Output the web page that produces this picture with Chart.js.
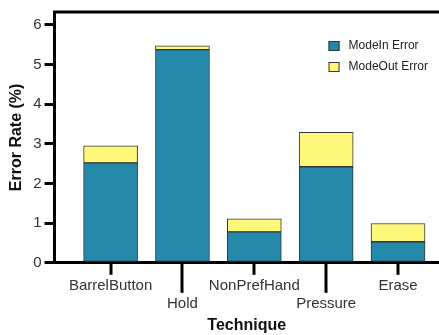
<!DOCTYPE html>
<html>
<head>
<meta charset="utf-8">
<script src="https://cdn.jsdelivr.net/npm/chart.js@4"></script>
<style>
  html, body { margin: 0; padding: 0; background: #fff; }
  #wrap { width: 439px; height: 335px; }
</style>
</head>
<body>
<div id="wrap"><canvas id="chartErrors"></canvas></div>
<script>
const categories = ["BarrelButton", "Hold", "NonPrefHand", "Pressure", "Erase"];
const modeIn = [2.52, 5.37, 0.78, 2.42, 0.53];
const modeOut = [0.43, 0.1, 0.33, 0.87, 0.46];
const yTicks = [0, 1, 2, 3, 4, 5, 6];

const FONT = "'Liberation Sans', Arial, sans-serif";

// extra lines: top frame, x tick marks (long ones for staggered labels), legend
const extras = {
  id: "extras",
  afterDraw(chart) {
    const ctx = chart.ctx;
    const area = chart.chartArea;
    const xs = chart.scales.x;
    ctx.save();
    ctx.strokeStyle = "#000";
    ctx.lineWidth = 3;
    ctx.beginPath();
    ctx.moveTo(area.left - 1.5, area.top);
    ctx.lineTo(chart.width, area.top);
    ctx.stroke();

    categories.forEach((c, i) => {
      const px = Math.round(xs.getPixelForValue(i));
      const len = i % 2 == 1 ? 30 : 12;
      ctx.beginPath();
      ctx.moveTo(px, area.bottom);
      ctx.lineTo(px, area.bottom + len);
      ctx.stroke();
    });

    // legend
    ctx.font = "12px " + FONT;
    ctx.textBaseline = "middle";
    ctx.lineWidth = 1;
    chart.data.datasets.forEach((ds, i) => {
      const bx = area.left + 274;
      const by = area.top + 29 + i * 21;
      ctx.fillStyle = ds.backgroundColor;
      ctx.fillRect(bx, by, 11, 10);
      ctx.strokeStyle = "#333";
      ctx.strokeRect(bx + 0.5, by + 0.5, 10, 9);
      ctx.fillStyle = "#222";
      ctx.fillText(ds.label, bx + 20, by + 5);
    });
    ctx.restore();
  },
};

const ctx = document.getElementById("chartErrors");
const myChart = new Chart(ctx, {
  type: "bar",
  data: {
    datasets: [
      {
        label: "ModeIn Error",
        data: modeIn.map((v, i) => ({ x: i, y: v })),
        backgroundColor: "#2489a9",
        borderColor: "#333",
        borderWidth: 1,
        borderSkipped: false,
        barThickness: 54,
      },
      {
        label: "ModeOut Error",
        data: modeOut.map((v, i) => ({ x: i, y: v })),
        backgroundColor: "#fff77a",
        borderColor: "#333",
        borderWidth: 1,
        borderSkipped: false,
        barThickness: 54,
      },
    ],
  },
  options: {
    responsive: true,
    maintainAspectRatio: false,
    animation: false,
    layout: { padding: { top: 8, right: 0, left: 7, bottom: 0 } },
    plugins: {
      legend: { display: false },
      tooltip: { enabled: false },
    },
    scales: {
      x: {
        type: "linear",
        stacked: true,
        offset: false,
        min: -0.78,
        max: 4.57,
        border: { display: true, color: "#000", width: 3 },
        grid: {
          display: true,
          drawOnChartArea: false,
          offset: false,
          color: "rgba(0,0,0,0)",
          tickLength: 11,
        },
        ticks: {
          stepSize: 1,
          includeBounds: false,
          autoSkip: false,
          maxRotation: 0,
          padding: 3,
          color: "#333",
          font: { family: FONT, size: 15 },
          callback: (v) => {
            if (!Number.isInteger(v) || !categories[v]) return "";
            return v % 2 == 1 ? ["", categories[v]] : categories[v];
          },
        },
        title: {
          display: true,
          text: "Technique",
          color: "#111",
          font: { family: FONT, size: 16, weight: "bold" },
          padding: { top: 0, bottom: 0 },
        },
      },
      y: {
        stacked: true,
        min: 0,
        max: 6.32,
        border: { display: true, color: "#000", width: 3 },
        grid: {
          display: true,
          drawOnChartArea: false,
          color: "#000",
          lineWidth: 3,
          tickLength: 10,
        },
        afterBuildTicks: (scale) => {
          scale.ticks = yTicks.map((v) => ({ value: v }));
        },
        ticks: {
          padding: 3,
          color: "#333",
          font: { family: FONT, size: 15 },
        },
        title: {
          display: true,
          text: "Error Rate (%)",
          color: "#111",
          font: { family: FONT, size: 16, weight: "bold" },
          padding: { top: 0, bottom: 4 },
        },
      },
    },
  },
  plugins: [extras],
});
</script>
</body>
</html>
